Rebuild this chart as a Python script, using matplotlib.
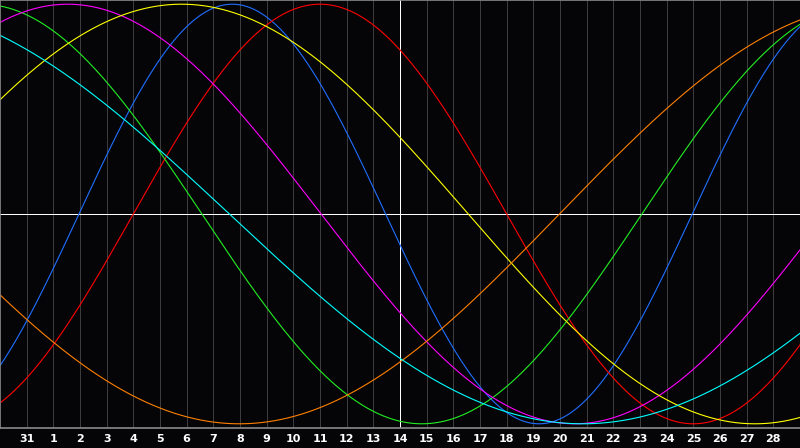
import numpy as np
import matplotlib
matplotlib.use("Agg")
import matplotlib.pyplot as plt

# ── Data ───────────────────────────────────────────────────────────────────
# day labels under each grid line (grid slots 1..29)
day_labels = [31] + list(range(1, 29))
# cycles: period in days, grid slot where the curve crosses zero going up
cycle_names   = ["physical", "emotional", "intellectual", "intuitive",
                 "aesthetic", "awareness", "spiritual"]
cycle_periods = [23, 28, 33, 38, 43, 48, 53]
cycle_rise    = [2.96, 5.0, -8.93, -6.96, -3.94, 20.98, -17.9]
cycle_colors  = ["#1f6fff", "#ff0000", "#22ee22", "#ff00ff",
                 "#ffff00", "#ff8000", "#00ffff"]

BG = "#050508"
N_SLOTS = 30

fig = plt.figure(figsize=(8, 4.48), dpi=100, facecolor=BG)
ax = fig.add_axes([0, 20 / 448, 1, 428 / 448])
ax.set_facecolor(BG)

# vertical day grid, centre line white
for k in range(1, N_SLOTS):
    ax.axvline(k, color="white" if k == 15 else "#3c3c3c", lw=0.72, zorder=1)
ax.axhline(0, color="white", lw=0.72, zorder=1)

x = np.linspace(0, N_SLOTS, 1201)
for period, rise, color in zip(cycle_periods, cycle_rise, cycle_colors):
    y = np.sin(2 * np.pi * (x - rise) / period)
    ax.plot(x, y, color=color, lw=0.8, zorder=2)

ax.set_xlim(0, N_SLOTS)
ax.set_ylim(-1.02, 1.02)
ax.set_xticks([])
ax.set_yticks([])
for side in ["left", "top", "bottom"]:
    ax.spines[side].set_color("#8a8a8a")
    ax.spines[side].set_linewidth(1.2)
ax.spines["right"].set_visible(False)

# day numbers under the plot
for k, lab in enumerate(day_labels, start=1):
    fig.text(k / N_SLOTS, 9 / 448, str(lab), ha="center", va="center",
             color="white", fontsize=8, fontweight="bold",
             family="DejaVu Sans")

plt.savefig("out.png", dpi=100, facecolor=BG)
plt.close()
